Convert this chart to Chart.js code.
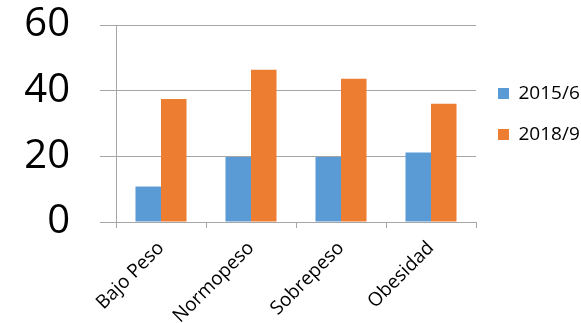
<!DOCTYPE html>
<html>
<head>
<meta charset="utf-8">
<script src="https://cdn.jsdelivr.net/npm/chart.js@4"></script>
<style>
html,body{margin:0;padding:0;background:#fff;}
#wrap{width:581px;height:323px;}
</style>
</head>
<body>
<div id="wrap"><canvas id="c" width="581" height="323"></canvas></div>
<script>
const categories = ['Bajo Peso', 'Normopeso', 'Sobrepeso', 'Obesidad'];
const seriesNames = ['2015/6', '2018/9'];
const values2015 = [10.8, 19.8, 19.8, 21.2];
const values2018 = [37.5, 46.4, 43.6, 36.0];
const yTickValues = [0, 20, 40, 60];

const blue = '#5B9BD5';
const orange = '#ED7D31';
const gridColor = '#a6a6a6';
const fam = "'Open Sans', 'Noto Sans', sans-serif";

new Chart(document.getElementById('c'), {
  type: 'bar',
  data: {
    labels: categories,
    datasets: [
      { label: seriesNames[0], data: values2015, backgroundColor: blue, borderWidth: 0,
        categoryPercentage: 0.567, barPercentage: 1 },
      { label: seriesNames[1], data: values2018, backgroundColor: orange, borderWidth: 0,
        categoryPercentage: 0.567, barPercentage: 1 }
    ]
  },
  options: {
    responsive: false,
    animation: false,
    layout: { padding: { left: 0, top: 25, bottom: 0, right: 0 } },
    plugins: {
      tooltip: { enabled: false },
      title: { display: false },
      legend: {
        position: 'right',
        align: 'start',
        maxWidth: 105,
        title: { display: true, text: '', font: { size: 10 }, padding: { top: 25, bottom: 0 } },
        labels: {
          boxWidth: 11, boxHeight: 11, padding: 22, color: '#000',
          font: { family: fam, size: 19 }
        }
      }
    },
    scales: {
      x: {
        afterFit: (a) => { a.height = 101; a.paddingLeft = 0; a.paddingRight = 0; },
        grid: { offset: true, drawOnChartArea: false, tickLength: 6, color: gridColor, lineWidth: 1 },
        border: { color: gridColor, width: 1 },
        ticks: { minRotation: 45, maxRotation: 45, color: '#000', padding: 9,
                 font: { family: fam, size: 19 } }
      },
      y: {
        min: 0, max: 60,
        afterBuildTicks: (axis) => { axis.ticks = yTickValues.map(v => ({ value: v })); },
        afterFit: (a) => { a.width = 116; a.paddingTop = 0; a.paddingBottom = 0; },
        grid: { color: gridColor, lineWidth: 1, tickLength: 16 },
        border: { color: gridColor, width: 1 },
        ticks: { color: '#000', padding: 30, font: { family: fam, size: 40 } }
      }
    }
  }
});
</script>
</body>
</html>
